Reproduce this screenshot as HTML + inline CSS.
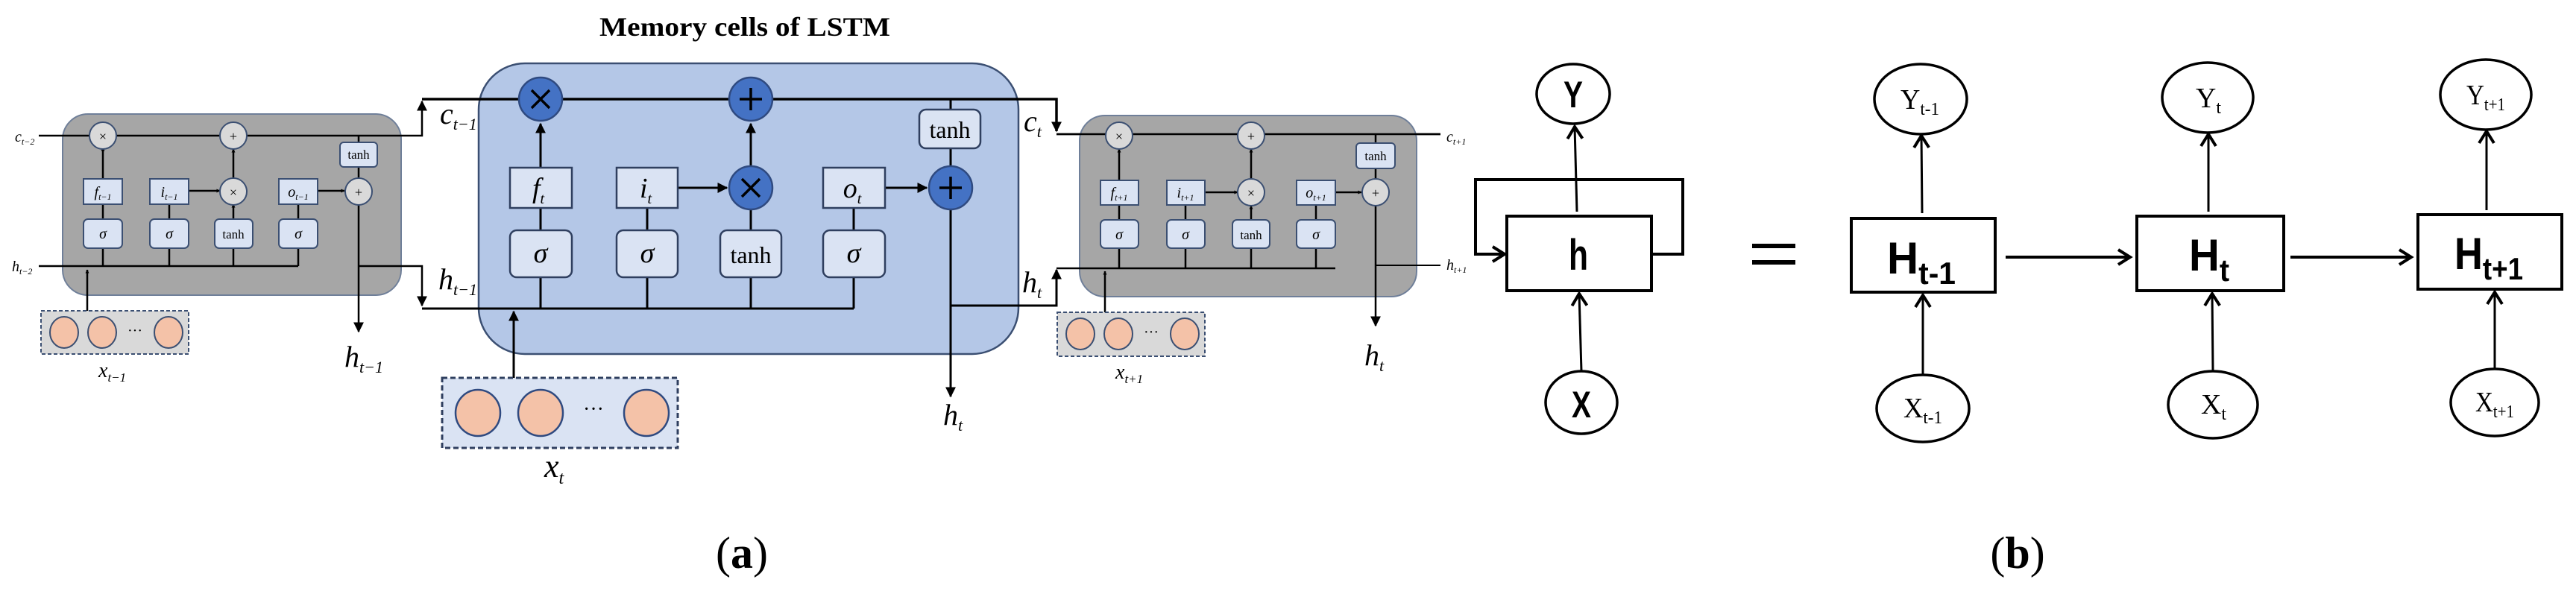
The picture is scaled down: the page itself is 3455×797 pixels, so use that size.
<!DOCTYPE html>
<html><head><meta charset="utf-8"><style>
html,body{margin:0;padding:0;background:#fff;}
svg{display:block;}
.it{font-family:"Liberation Serif",serif;font-style:italic;fill:#000;}
.rm{font-family:"Liberation Serif",serif;fill:#000;}
.sb{font-family:"Liberation Sans",sans-serif;font-weight:bold;fill:#000;}
</style></head><body>
<svg width="3455" height="797" viewBox="0 0 3455 797" xmlns="http://www.w3.org/2000/svg">
<defs>
<marker id="a" viewBox="0 0 10 10" refX="9" refY="5" markerWidth="5" markerHeight="5" orient="auto-start-reverse" markerUnits="userSpaceOnUse"><path d="M0,0 L10,5 L0,10 z" fill="#000"/></marker>
<marker id="am" viewBox="0 0 10 10" refX="9" refY="5" markerWidth="14" markerHeight="14" orient="auto" markerUnits="userSpaceOnUse"><path d="M0,0 L10,5 L0,10 z" fill="#000"/></marker>
<marker id="ao" viewBox="0 0 12 12" refX="10" refY="6" markerWidth="24" markerHeight="24" orient="auto" markerUnits="userSpaceOnUse"><path d="M2,1 L10,6 L2,11" fill="none" stroke="#000" stroke-width="2"/></marker>
</defs>

<text x="804" y="48" class="rm" font-size="36" font-weight="bold" textLength="390" lengthAdjust="spacingAndGlyphs">Memory cells of LSTM</text>

<!-- LEFT CELL -->
<rect x="84" y="153" width="454" height="243" rx="34" fill="#a6a6a6" stroke="#6f7f99" stroke-width="2"/>
<g stroke="#000" stroke-width="2.5" fill="none">
<polyline points="52,182 566,182 566,136" marker-end="url(#am)"/>
<line x1="52" y1="357" x2="400" y2="357"/>
<polyline points="482,357 566,357 566,410" marker-end="url(#am)"/>
<line x1="138" y1="357" x2="138" y2="198" marker-end="url(#a)"/>
<line x1="227" y1="357" x2="227" y2="256"/>
<line x1="313" y1="357" x2="313" y2="274" marker-end="url(#a)"/>
<line x1="313" y1="240" x2="313" y2="200" marker-end="url(#a)"/>
<line x1="400" y1="357" x2="400" y2="256"/>
<line x1="252" y1="256" x2="295" y2="256" marker-end="url(#a)"/>
<line x1="426" y1="256" x2="462" y2="256" marker-end="url(#a)"/>
<line x1="481" y1="182" x2="481" y2="240"/>
<line x1="481" y1="274" x2="481" y2="445" marker-end="url(#am)"/>
<line x1="117" y1="417" x2="117" y2="362" marker-end="url(#a)"/>
</g>
<g fill="#d9d9d9" stroke="#3b4f72" stroke-width="2">
<ellipse cx="138" cy="182" rx="18" ry="18"/><ellipse cx="313" cy="182" rx="18" ry="18"/>
<ellipse cx="313" cy="257" rx="18" ry="18"/><ellipse cx="481" cy="257" rx="18" ry="18"/>
</g>
<g fill="#dae3f3" stroke="#3b4f72" stroke-width="2">
<rect x="112" y="240" width="52" height="34"/><rect x="201" y="240" width="52" height="34"/><rect x="374" y="240" width="52" height="34"/>
<rect x="112" y="294" width="52" height="39" rx="6"/><rect x="201" y="294" width="52" height="39" rx="6"/><rect x="288" y="294" width="51" height="39" rx="6"/><rect x="374" y="294" width="52" height="39" rx="6"/>
<rect x="456" y="191" width="50" height="33" rx="5"/>
</g>
<g class="rm" font-size="18" text-anchor="middle">
<text x="138" y="189">×</text><text x="313" y="189">+</text><text x="313" y="264">×</text><text x="481" y="264">+</text>
<text x="313" y="320" font-size="17">tanh</text><text x="481" y="213" font-size="17">tanh</text>
</g>
<g class="it" font-size="20" text-anchor="middle">
<text x="138" y="264">f<tspan font-size="12" dy="4">t−1</tspan></text>
<text x="227" y="264">i<tspan font-size="12" dy="4">t−1</tspan></text>
<text x="400" y="264">o<tspan font-size="12" dy="4">t−1</tspan></text>
<text x="138" y="320">σ</text><text x="227" y="320">σ</text><text x="400" y="320">σ</text>
</g>
<text x="20" y="190" class="it" font-size="20">c<tspan font-size="12" dy="4">t−2</tspan></text>
<text x="16" y="364" class="it" font-size="20">h<tspan font-size="12" dy="4">t−2</tspan></text>
<rect x="55" y="417" width="198" height="58" fill="#d9d9d9" stroke="#3b4f72" stroke-width="2" stroke-dasharray="5,3"/>
<g fill="#f4c2a8" stroke="#3b4f72" stroke-width="2"><ellipse cx="86" cy="446" rx="19" ry="21"/><ellipse cx="137" cy="446" rx="19" ry="21"/><ellipse cx="226" cy="446" rx="19" ry="21"/></g>
<text x="181" y="450" class="rm" font-size="20" text-anchor="middle">···</text>
<text x="132" y="506" class="it" font-size="28">x<tspan font-size="17" dy="6">t−1</tspan></text>
<text x="462" y="492" class="it" font-size="40">h<tspan font-size="22" dy="8">t−1</tspan></text>

<!-- CENTER CELL -->
<rect x="642" y="85" width="724" height="390" rx="62" fill="#b4c7e7" stroke="#3b4f72" stroke-width="2.5"/>
<g stroke="#000" stroke-width="3.5" fill="none">
<polyline points="566,133 1417,133 1417,176" marker-end="url(#am)"/>
<line x1="1417" y1="180" x2="1932" y2="180" stroke-width="2.5"/>
<line x1="566" y1="414" x2="1145" y2="414" stroke-width="3"/>
<line x1="725" y1="225" x2="725" y2="166" marker-end="url(#am)" stroke-width="3"/>
<line x1="725" y1="309" x2="725" y2="279" stroke-width="3"/>
<line x1="725" y1="372" x2="725" y2="414" stroke-width="3"/>
<line x1="868" y1="279" x2="868" y2="309" stroke-width="3"/>
<line x1="868" y1="372" x2="868" y2="414" stroke-width="3"/>
<line x1="1007" y1="222" x2="1007" y2="166" marker-end="url(#am)" stroke-width="3"/>
<line x1="1007" y1="281" x2="1007" y2="309" stroke-width="3"/>
<line x1="1007" y1="372" x2="1007" y2="414" stroke-width="3"/>
<line x1="1145" y1="279" x2="1145" y2="309" stroke-width="3"/>
<line x1="1145" y1="372" x2="1145" y2="414" stroke-width="3"/>
<line x1="909" y1="252" x2="975" y2="252" marker-end="url(#am)" stroke-width="3"/>
<line x1="1187" y1="252" x2="1243" y2="252" marker-end="url(#am)" stroke-width="3"/>
<line x1="1275" y1="133" x2="1275" y2="147" stroke-width="3"/>
<line x1="1275" y1="199" x2="1275" y2="222" stroke-width="3"/>
<line x1="1275" y1="282" x2="1275" y2="532" marker-end="url(#am)" stroke-width="3"/>
<polyline points="1275,410 1417,410 1417,362" marker-end="url(#am)" stroke-width="3"/>
<line x1="689" y1="507" x2="689" y2="418" marker-end="url(#am)" stroke-width="3"/>
</g>
<g fill="#4472c4" stroke="#2f4a80" stroke-width="2.5">
<circle cx="725" cy="133" r="29"/><circle cx="1007" cy="133" r="29"/><circle cx="1007" cy="252" r="29"/><circle cx="1275" cy="252" r="29"/>
</g>
<g stroke="#000" stroke-width="3.5">
<path d="M713,121 L737,145 M737,121 L713,145"/>
<path d="M1007,118 V148 M992,133 H1022"/>
<path d="M995,240 L1019,264 M1019,240 L995,264"/>
<path d="M1275,237 V267 M1260,252 H1290"/>
</g>
<g fill="#dae3f3" stroke="#2f3f5f" stroke-width="2.5">
<rect x="684" y="225" width="83" height="54"/><rect x="827" y="225" width="82" height="54"/><rect x="1104" y="225" width="83" height="54"/>
<rect x="684" y="309" width="83" height="63" rx="9"/><rect x="827" y="309" width="82" height="63" rx="9"/><rect x="966" y="309" width="82" height="63" rx="9"/><rect x="1104" y="309" width="83" height="63" rx="9"/>
<rect x="1233" y="147" width="82" height="52" rx="9"/>
</g>
<g class="it" font-size="38" text-anchor="middle">
<text x="722" y="265">f<tspan font-size="20" dy="8">t</tspan></text>
<text x="866" y="265">i<tspan font-size="20" dy="8">t</tspan></text>
<text x="1143" y="265">o<tspan font-size="20" dy="8">t</tspan></text>
<text x="725" y="352">σ</text><text x="868" y="352">σ</text><text x="1145" y="352">σ</text>
</g>
<text x="1007" y="353" class="rm" font-size="32" text-anchor="middle">tanh</text>
<text x="1274" y="185" class="rm" font-size="32" text-anchor="middle">tanh</text>
<text x="590" y="166" class="it" font-size="40">c<tspan font-size="22" dy="8">t−1</tspan></text>
<text x="588" y="388" class="it" font-size="40">h<tspan font-size="22" dy="8">t−1</tspan></text>
<text x="1373" y="176" class="it" font-size="40">c<tspan font-size="22" dy="8">t</tspan></text>
<text x="1371" y="392" class="it" font-size="40">h<tspan font-size="22" dy="8">t</tspan></text>
<text x="1265" y="570" class="it" font-size="40">h<tspan font-size="22" dy="8">t</tspan></text>
<rect x="593" y="507" width="316" height="94" fill="#dae3f3" stroke="#2f3f5f" stroke-width="3" stroke-dasharray="7,4"/>
<g fill="#f4c2a8" stroke="#2f4a80" stroke-width="2.5"><ellipse cx="641" cy="554" rx="30" ry="31"/><ellipse cx="725" cy="554" rx="30" ry="31"/><ellipse cx="867" cy="554" rx="30" ry="31"/></g>
<text x="796" y="558" class="rm" font-size="28" text-anchor="middle">···</text>
<text x="730" y="640" class="it" font-size="44">x<tspan font-size="24" dy="9">t</tspan></text>

<!-- RIGHT CELL -->
<rect x="1448" y="155" width="452" height="243" rx="34" fill="#a6a6a6" stroke="#6f7f99" stroke-width="2"/>
<g stroke="#000" stroke-width="2.5" fill="none">
<line x1="1417" y1="180" x2="1932" y2="180"/>
<line x1="1417" y1="360" x2="1791" y2="360"/>
<line x1="1844" y1="356" x2="1932" y2="356" stroke-width="2"/>
<line x1="1501" y1="360" x2="1501" y2="200" marker-end="url(#a)"/>
<line x1="1590" y1="360" x2="1590" y2="258"/>
<line x1="1678" y1="360" x2="1678" y2="276" marker-end="url(#a)"/>
<line x1="1678" y1="241" x2="1678" y2="200" marker-end="url(#a)"/>
<line x1="1765" y1="360" x2="1765" y2="258"/>
<line x1="1616" y1="258" x2="1660" y2="258" marker-end="url(#a)"/>
<line x1="1791" y1="258" x2="1826" y2="258" marker-end="url(#a)"/>
<line x1="1845" y1="180" x2="1845" y2="241"/>
<line x1="1845" y1="276" x2="1845" y2="437" marker-end="url(#am)"/>
<line x1="1482" y1="419" x2="1482" y2="364" marker-end="url(#a)"/>
</g>
<g fill="#d9d9d9" stroke="#3b4f72" stroke-width="2">
<ellipse cx="1501" cy="182" rx="18" ry="18"/><ellipse cx="1678" cy="182" rx="18" ry="18"/>
<ellipse cx="1678" cy="258" rx="18" ry="18"/><ellipse cx="1845" cy="258" rx="18" ry="18"/>
</g>
<g fill="#dae3f3" stroke="#3b4f72" stroke-width="2">
<rect x="1476" y="242" width="51" height="33"/><rect x="1565" y="242" width="51" height="33"/><rect x="1739" y="242" width="52" height="33"/>
<rect x="1476" y="295" width="51" height="38" rx="6"/><rect x="1565" y="295" width="51" height="38" rx="6"/><rect x="1653" y="295" width="50" height="38" rx="6"/><rect x="1739" y="295" width="52" height="38" rx="6"/>
<rect x="1819" y="192" width="52" height="34" rx="5"/>
</g>
<g class="rm" font-size="18" text-anchor="middle">
<text x="1501" y="189">×</text><text x="1678" y="189">+</text><text x="1678" y="265">×</text><text x="1845" y="265">+</text>
<text x="1678" y="321" font-size="17">tanh</text><text x="1845" y="215" font-size="17">tanh</text>
</g>
<g class="it" font-size="20" text-anchor="middle">
<text x="1501" y="265">f<tspan font-size="12" dy="4">t+1</tspan></text>
<text x="1590" y="265">i<tspan font-size="12" dy="4">t+1</tspan></text>
<text x="1765" y="265">o<tspan font-size="12" dy="4">t+1</tspan></text>
<text x="1501" y="321">σ</text><text x="1590" y="321">σ</text><text x="1765" y="321">σ</text>
</g>
<text x="1940" y="190" class="it" font-size="20">c<tspan font-size="12" dy="4">t+1</tspan></text>
<text x="1940" y="362" class="it" font-size="20">h<tspan font-size="12" dy="4">t+1</tspan></text>
<rect x="1418" y="419" width="198" height="59" fill="#d9d9d9" stroke="#3b4f72" stroke-width="2" stroke-dasharray="5,3"/>
<g fill="#f4c2a8" stroke="#3b4f72" stroke-width="2"><ellipse cx="1449" cy="448" rx="19" ry="21"/><ellipse cx="1500" cy="448" rx="19" ry="21"/><ellipse cx="1589" cy="448" rx="19" ry="21"/></g>
<text x="1544" y="452" class="rm" font-size="20" text-anchor="middle">···</text>
<text x="1496" y="508" class="it" font-size="28">x<tspan font-size="17" dy="6">t+1</tspan></text>
<text x="1830" y="490" class="it" font-size="40">h<tspan font-size="22" dy="8">t</tspan></text>

<text x="995" y="762" class="rm" font-size="60" text-anchor="middle">(<tspan font-weight="bold">a</tspan>)</text>

<!-- (b) -->
<g stroke="#000" stroke-width="4" fill="none">
<polyline points="2215,341 2257,341 2257,241 1979,241 1979,341 2018,341" marker-end="url(#ao)"/>
<rect x="2021" y="290" width="194" height="100" fill="#fff"/>
<line x1="2115" y1="284" x2="2112" y2="170" marker-end="url(#ao)" stroke-width="3"/>
<line x1="2121" y1="498" x2="2118" y2="394" marker-end="url(#ao)" stroke-width="3"/>
<ellipse cx="2110" cy="126" rx="49" ry="40" stroke-width="3.5"/>
<ellipse cx="2121" cy="540" rx="48" ry="42" stroke-width="3.5"/>
<rect x="2483" y="293" width="193" height="99"/>
<rect x="2866" y="290" width="197" height="100"/>
<rect x="3243" y="288" width="193" height="100"/>
<ellipse cx="2576" cy="133" rx="62" ry="47" stroke-width="3.5"/>
<ellipse cx="2961" cy="131" rx="61" ry="47" stroke-width="3.5"/>
<ellipse cx="3334" cy="127" rx="61" ry="47" stroke-width="3.5"/>
<ellipse cx="2579" cy="548" rx="62" ry="45" stroke-width="3.5"/>
<ellipse cx="2968" cy="543" rx="60" ry="45" stroke-width="3.5"/>
<ellipse cx="3346" cy="540" rx="59" ry="45" stroke-width="3.5"/>
<line x1="2578" y1="286" x2="2577" y2="182" marker-end="url(#ao)" stroke-width="3"/>
<line x1="2962" y1="284" x2="2962" y2="180" marker-end="url(#ao)" stroke-width="3"/>
<line x1="3335" y1="282" x2="3335" y2="176" marker-end="url(#ao)" stroke-width="3"/>
<line x1="2579" y1="503" x2="2579" y2="396" marker-end="url(#ao)" stroke-width="3"/>
<line x1="2968" y1="498" x2="2967" y2="394" marker-end="url(#ao)" stroke-width="3"/>
<line x1="3346" y1="495" x2="3346" y2="392" marker-end="url(#ao)" stroke-width="3"/>
<line x1="2690" y1="345" x2="2857" y2="345" marker-end="url(#ao)"/>
<line x1="3072" y1="345" x2="3234" y2="345" marker-end="url(#ao)"/>
</g>
<rect x="2350" y="327" width="58" height="6" fill="#000"/>
<rect x="2350" y="349" width="58" height="6" fill="#000"/>
<g class="sb">
<text x="2097" y="144" font-size="50" textLength="26" lengthAdjust="spacingAndGlyphs">Y</text>
<text x="2104" y="362" font-size="58" textLength="26" lengthAdjust="spacingAndGlyphs">h</text>
<text x="2108" y="560" font-size="50" textLength="26" lengthAdjust="spacingAndGlyphs">X</text>
<text x="2531" y="367" font-size="60" textLength="92" lengthAdjust="spacingAndGlyphs">H<tspan font-size="42" dy="14">t-1</tspan></text>
<text x="2936" y="363" font-size="60" textLength="54" lengthAdjust="spacingAndGlyphs">H<tspan font-size="42" dy="14">t</tspan></text>
<text x="3292" y="361" font-size="60" textLength="92" lengthAdjust="spacingAndGlyphs">H<tspan font-size="42" dy="14">t+1</tspan></text>
</g>
<g class="rm">
<text x="2549" y="146" font-size="38" textLength="52" lengthAdjust="spacingAndGlyphs">Y<tspan font-size="24" dy="8">t-1</tspan></text>
<text x="2945" y="144" font-size="38" textLength="34" lengthAdjust="spacingAndGlyphs">Y<tspan font-size="24" dy="8">t</tspan></text>
<text x="3308" y="140" font-size="38" textLength="52" lengthAdjust="spacingAndGlyphs">Y<tspan font-size="24" dy="8">t+1</tspan></text>
<text x="2553" y="560" font-size="38" textLength="52" lengthAdjust="spacingAndGlyphs">X<tspan font-size="24" dy="8">t-1</tspan></text>
<text x="2952" y="555" font-size="38" textLength="34" lengthAdjust="spacingAndGlyphs">X<tspan font-size="24" dy="8">t</tspan></text>
<text x="3320" y="552" font-size="38" textLength="52" lengthAdjust="spacingAndGlyphs">X<tspan font-size="24" dy="8">t+1</tspan></text>
</g>
<text x="2706" y="762" class="rm" font-size="60" text-anchor="middle">(<tspan font-weight="bold">b</tspan>)</text>
</svg>
</body></html>
